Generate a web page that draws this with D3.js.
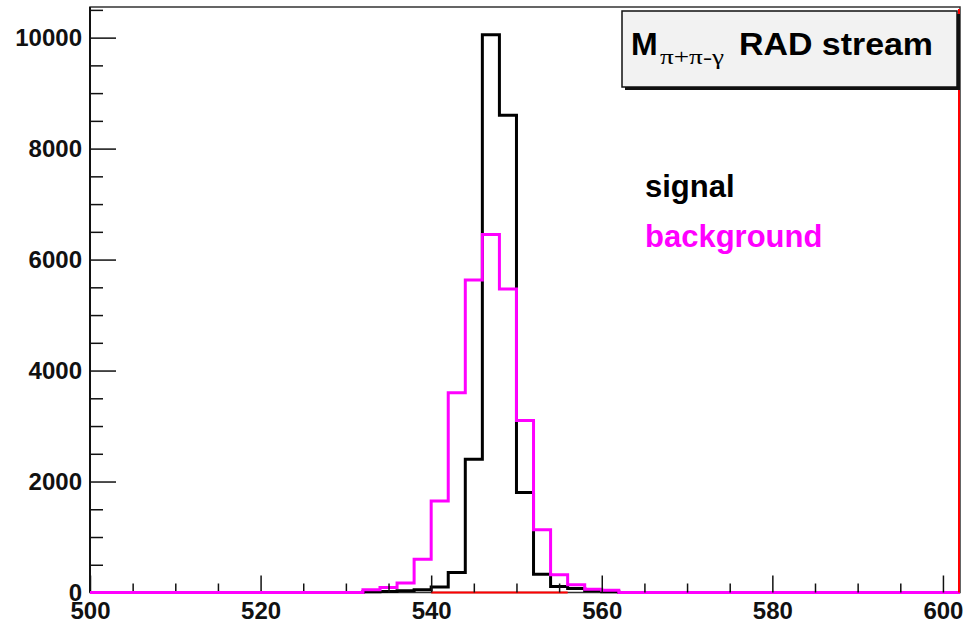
<!DOCTYPE html>
<html>
<head>
<meta charset="utf-8">
<script src="https://cdn.jsdelivr.net/npm/d3@7"></script>
<style>
  html, body { margin: 0; padding: 0; background: #fff; }
  svg { display: block; }
  text { font-family: "Liberation Sans", Arial, Helvetica, sans-serif; }
</style>
</head>
<body>
<svg id="chart" width="965" height="626"></svg>
<script>
// Bin lower edges (bin width 2), M(pi+ pi- gamma) in MeV
const binLow = [500, 502, 504, 506, 508, 510, 512, 514, 516, 518,
                520, 522, 524, 526, 528, 530, 532, 534, 536, 538,
                540, 542, 544, 546, 548, 550, 552, 554, 556, 558,
                560, 562, 564, 566, 568, 570, 572, 574, 576, 578,
                580, 582, 584, 586, 588, 590, 592, 594, 596, 598,
                600];
const binWidth = 2;

// Entries per bin
const signal = [0, 0, 0, 0, 0, 0, 0, 0, 0, 0,
                0, 0, 0, 0, 0, 0, 15, 20, 30, 50,
                100, 360, 2400, 10050, 8600, 1800, 330, 110, 70, 30,
                15, 0, 0, 0, 0, 0, 0, 0, 0, 0,
                0, 0, 0, 0, 0, 0, 0, 0, 0, 0,
                0];
const background = [0, 0, 0, 0, 0, 0, 0, 0, 0, 0,
                    0, 0, 0, 0, 0, 0, 50, 90, 170, 600,
                    1650, 3600, 5630, 6450, 5470, 3100, 1130, 320, 140, 60,
                    40, 0, 0, 0, 0, 0, 0, 0, 0, 0,
                    0, 0, 0, 0, 0, 0, 0, 0, 0, 0,
                    0];
// Third (empty) histogram, only filled range drawn
const extraLow = [540, 542, 544, 546, 548, 550, 552, 554];
const extra = [0, 0, 0, 0, 0, 0, 0, 0];

const xMajorTicks = [500, 520, 540, 560, 580, 600];
const xMinorTicks = [505, 510, 515, 525, 530, 535, 545, 550, 555, 565, 570, 575, 585, 590, 595];
const yMajorTicks = [0, 2000, 4000, 6000, 8000, 10000];
const yMinorTicks = [500, 1000, 1500, 2500, 3000, 3500, 4500, 5000, 5500,
                     6500, 7000, 7500, 8500, 9000, 9500, 10500];

const legendLabels = ["signal", "background"];
const colors = { signal: "#000000", background: "#ff00ff", extra: "#ff0000" };

const svg = d3.select("#chart");
const plotLeft = 90, plotRight = 960, plotTop = 7, plotBottom = 592.5;

const x = d3.scaleLinear().domain([500, 602]).range([plotLeft, plotRight]);
const y = d3.scaleLinear().domain([0, 10552]).range([plotBottom, plotTop]);

// Histogram outline as a step line
function histPoints(lows, vals) {
  const pts = lows.map((l, i) => [l, vals[i]]);
  pts.push([lows[lows.length - 1] + binWidth, vals[vals.length - 1]]);
  return pts;
}
const step = d3.line()
  .x(d => x(d[0]))
  .y(d => y(d[1]))
  .curve(d3.curveStepAfter);

// Frame
svg.append("rect")
  .attr("x", plotLeft).attr("y", plotTop)
  .attr("width", plotRight - plotLeft).attr("height", plotBottom - plotTop)
  .attr("fill", "none").attr("stroke", "#333").attr("stroke-width", 1.5);

// Histograms
svg.append("path")
  .attr("d", step(histPoints(binLow, signal)))
  .attr("fill", "none").attr("stroke", colors.signal).attr("stroke-width", 3)
  .attr("stroke-linejoin", "miter");
svg.append("path")
  .attr("d", step(histPoints(binLow, background)))
  .attr("fill", "none").attr("stroke", colors.background).attr("stroke-width", 3)
  .attr("stroke-linejoin", "miter");
svg.append("path")
  .attr("d", step(histPoints(extraLow, extra)))
  .attr("fill", "none").attr("stroke", colors.extra).attr("stroke-width", 2);
svg.append("line")
  .attr("x1", plotRight - 1).attr("x2", plotRight - 1)
  .attr("y1", plotTop + 2).attr("y2", plotBottom)
  .attr("stroke", colors.extra).attr("stroke-width", 2);

// Axes: ticks point into the frame
const xMinor = d3.axisBottom(x).tickValues(xMinorTicks).tickSize(-9).tickFormat("");
const xMajor = d3.axisBottom(x).tickValues(xMajorTicks).tickSize(-17).tickPadding(9)
  .tickFormat(d3.format("d"));
const yMinor = d3.axisLeft(y).tickValues(yMinorTicks).tickSize(-13).tickFormat("");
const yMajor = d3.axisLeft(y).tickValues(yMajorTicks).tickSize(-26).tickPadding(8)
  .tickFormat(d3.format("d"));

function styleAxis(g) {
  g.select(".domain").remove();
  g.selectAll(".tick line").attr("stroke", "#111").attr("stroke-width", 1.5);
  g.selectAll(".tick text")
    .attr("fill", "#111")
    .style("font-size", "24px")
    .style("font-weight", "bold")
    .style("font-family", "'Liberation Sans', Arial, sans-serif");
}
svg.append("g").attr("transform", `translate(0,${plotBottom})`).call(xMinor).call(styleAxis);
svg.append("g").attr("transform", `translate(0,${plotBottom})`).call(xMajor).call(styleAxis);
svg.append("g").attr("transform", `translate(${plotLeft},0)`).call(yMinor).call(styleAxis);
svg.append("g").attr("transform", `translate(${plotLeft},0)`).call(yMajor).call(styleAxis);

// Y axis line
svg.append("line").attr("x1", plotLeft).attr("x2", plotLeft).attr("y1", plotTop).attr("y2", plotBottom)
  .attr("stroke", "#111").attr("stroke-width", 2);

// Zero-content stretch of the background histogram lies on the x axis
svg.append("path")
  .attr("d", step(histPoints(binLow.slice(0, 16), background.slice(0, 16))))
  .attr("fill", "none").attr("stroke", colors.background).attr("stroke-width", 3);

// Title box with shadow
const box = { x: 622, y: 11, w: 335, h: 76 };
svg.append("rect")
  .attr("x", box.x + 3).attr("y", box.y + 3)
  .attr("width", box.w).attr("height", box.h)
  .attr("fill", "#111");
svg.append("rect")
  .attr("x", box.x).attr("y", box.y)
  .attr("width", box.w).attr("height", box.h)
  .attr("fill", "#f2f2f2").attr("stroke", "#111").attr("stroke-width", 1.5);

const title = svg.append("text").attr("y", 55).attr("fill", "#000");
title.append("tspan").attr("x", 631)
  .style("font-size", "32px").style("font-weight", "bold")
  .text("M");
title.append("tspan").attr("x", 660).attr("y", 64)
  .style("font-family", "'Liberation Serif', 'Times New Roman', serif")
  .style("font-size", "22px")
  .attr("textLength", 64).attr("lengthAdjust", "spacingAndGlyphs")
  .text("π+π-γ");
title.append("tspan").attr("x", 739).attr("y", 55)
  .style("font-size", "32px").style("font-weight", "bold")
  .attr("textLength", 194).attr("lengthAdjust", "spacingAndGlyphs")
  .text("RAD stream");

// Legend labels
svg.append("text").attr("x", 645).attr("y", 197)
  .attr("fill", colors.signal)
  .style("font-size", "31px").style("font-weight", "bold")
  .text(legendLabels[0]);
svg.append("text").attr("x", 645).attr("y", 247)
  .attr("fill", colors.background)
  .style("font-size", "31px").style("font-weight", "bold")
  .text(legendLabels[1]);
</script>
</body>
</html>
